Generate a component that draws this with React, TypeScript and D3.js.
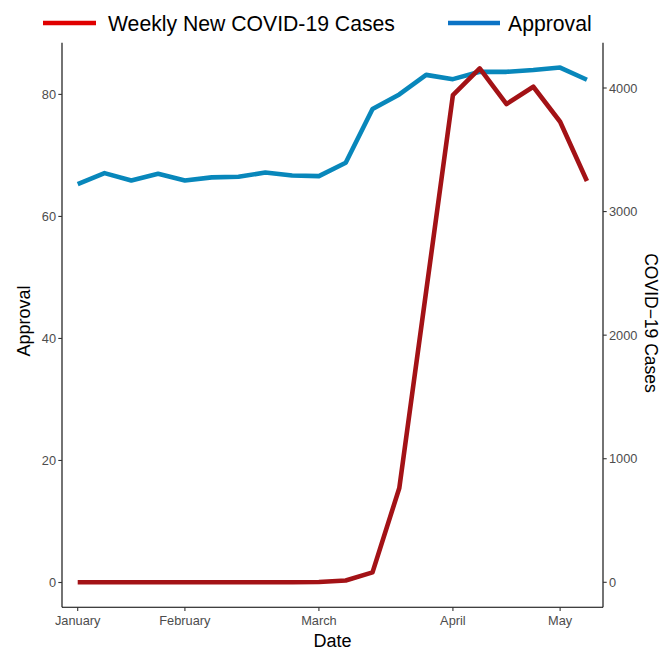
import React from "react";
import * as d3 from "d3";

const weekIndex = [0, 1, 2, 3, 4, 5, 6, 7, 8, 9, 10, 11, 12, 13, 14, 15, 16, 17, 18, 19];
const approval = [65.3, 67.1, 65.9, 67.0, 65.9, 66.4, 66.5, 67.2, 66.7, 66.6, 68.8, 77.6, 80.0, 83.2, 82.5, 83.7, 83.7, 84.0, 84.4, 82.4];
const cases = [0, 0, 0, 0, 0, 0, 0, 0, 0, 2, 15, 80, 763, 2352, 3943, 4159, 3870, 4010, 3727, 3247];
const monthTickIndex = [0, 4, 9, 14, 18];
const monthTickLabels = ["January", "February", "March", "April", "May"];
const approvalTicks = [0, 20, 40, 60, 80];
const casesTicks = [0, 1000, 2000, 3000, 4000];
const legendLabels = ["Weekly New COVID-19 Cases", "Approval"];

const W = 667;
const H = 651;
const FONT = "'Liberation Sans', Arial, Helvetica, sans-serif";

export default function App() {
  const left = 62, right = 603, top = 42.7, bottom = 607.3;
  const x = d3.scaleLinear().domain([-0.586, 19.6]).range([left, right]);
  const yL = d3.scaleLinear().domain([0, 80]).range([582.5, 94.4]);
  const yR = d3.scaleLinear().domain([0, 4000]).range([582.3, 88]);

  const approvalLine = d3.line<number>().x((_, i) => x(weekIndex[i])).y((d) => yL(d));
  const casesLine = d3.line<number>().x((_, i) => x(weekIndex[i])).y((d) => yR(d));

  const tickColor = "#4d4d4d";
  return (
    <svg width={W} height={H} style={{ position: "absolute", left: 0, top: 0, background: "#fff" }} fontFamily={FONT}>
      <rect width={W} height={H} fill="#fff" />
      {/* legend */}
      <line x1={43} x2={96} y1={23} y2={23} stroke="#e00000" strokeWidth={4.5} />
      <text x={108} y={30.5} fontSize={21.2} fill="#000">{legendLabels[0]}</text>
      <line x1={448} x2={500} y1={23} y2={23} stroke="#0b73c5" strokeWidth={4.5} />
      <text x={508} y={30.5} fontSize={21.2} fill="#000">{legendLabels[1]}</text>

      {/* lines */}
      <path d={approvalLine(approval) || ""} fill="none" stroke="#0887bb" strokeWidth={4.6} strokeLinejoin="round" />
      <path d={casesLine(cases) || ""} fill="none" stroke="#a31216" strokeWidth={4.6} strokeLinejoin="round" />

      {/* axes */}
      <line x1={left} x2={left} y1={top} y2={bottom} stroke="#000" strokeWidth={1.1} />
      <line x1={right} x2={right} y1={top} y2={bottom} stroke="#000" strokeWidth={1.1} />
      <line x1={left} x2={right} y1={bottom} y2={bottom} stroke="#000" strokeWidth={1.1} />

      {approvalTicks.map((t) => (
        <g key={"l" + t}>
          <line x1={left - 3.7} x2={left} y1={yL(t)} y2={yL(t)} stroke="#333" strokeWidth={1.1} />
          <text x={left - 6} y={yL(t)} dy="0.36em" textAnchor="end" fontSize={12.8} fill={tickColor}>{t}</text>
        </g>
      ))}
      {casesTicks.map((t) => (
        <g key={"r" + t}>
          <line x1={right} x2={right + 3.7} y1={yR(t)} y2={yR(t)} stroke="#333" strokeWidth={1.1} />
          <text x={right + 6} y={yR(t)} dy="0.36em" textAnchor="start" fontSize={12.8} fill={tickColor}>{t}</text>
        </g>
      ))}
      {monthTickIndex.map((t, i) => (
        <g key={"x" + t}>
          <line x1={x(t)} x2={x(t)} y1={bottom} y2={bottom + 3.7} stroke="#333" strokeWidth={1.1} />
          <text x={x(t)} y={bottom + 18} textAnchor="middle" fontSize={12.8} fill={tickColor}>{monthTickLabels[i]}</text>
        </g>
      ))}

      {/* titles */}
      <text x={(left + right) / 2} y={646.5} textAnchor="middle" fontSize={18} fill="#000">Date</text>
      <text transform={`translate(30, ${(top + bottom) / 2 - 4}) rotate(-90)`} textAnchor="middle" fontSize={18} fill="#000">Approval</text>
      <text transform={`translate(645, ${(top + bottom) / 2 - 2}) rotate(90)`} textAnchor="middle" fontSize={17.5} fill="#000">COVID−19 Cases</text>
    </svg>
  );
}
